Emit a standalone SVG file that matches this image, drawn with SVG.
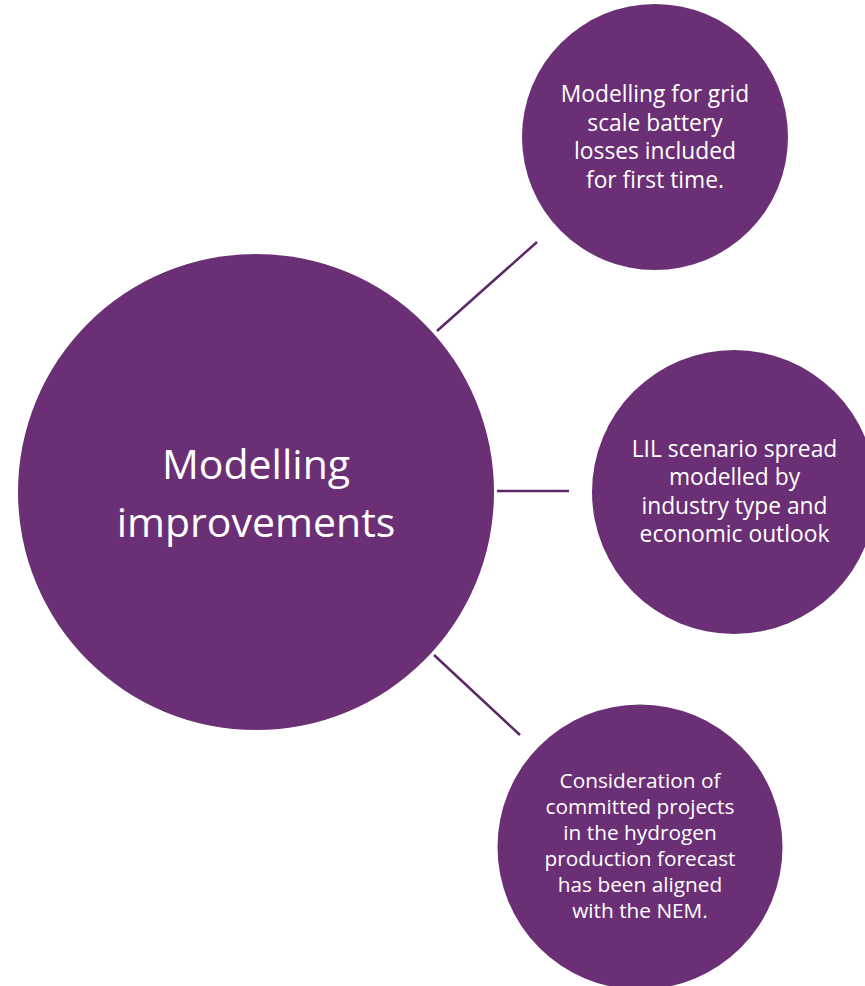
<svg xmlns="http://www.w3.org/2000/svg" width="865" height="986" viewBox="0 0 865 986">
  <style>
    .node { fill: #6b2f76; }
    .link { stroke: #5c2866; stroke-width: 2.5; fill: none; }
    .label { fill: #ffffff; font-family: "Open Sans", "Liberation Sans", sans-serif; text-anchor: middle; }
    .big { font-size: 41px; }
    .mid { font-size: 22.8px; }
    .small { font-size: 20.8px; }
  </style>
  <rect width="865" height="986" fill="#ffffff"/>

  <g id="connectors">
    <line class="link" x1="437" y1="331" x2="537" y2="242"/>
    <line class="link" x1="497" y1="491" x2="569" y2="491"/>
    <line class="link" x1="434" y1="655" x2="520" y2="735"/>
  </g>

  <g id="hub">
    <circle class="node" cx="256" cy="492" r="238"/>
    <text class="label big" x="256" y="479">Modelling</text>
    <text class="label big" x="256" y="537">improvements</text>
  </g>

  <g id="battery-losses">
    <circle class="node" cx="655" cy="137" r="133"/>
    <text class="label mid" x="655" y="102">Modelling for grid</text>
    <text class="label mid" x="655" y="130.7">scale battery</text>
    <text class="label mid" x="655" y="159.3">losses included</text>
    <text class="label mid" x="655" y="188">for first time.</text>
  </g>

  <g id="lil-scenario">
    <circle class="node" cx="734" cy="492" r="142"/>
    <text class="label mid" x="734.5" y="457">LIL scenario spread</text>
    <text class="label mid" x="734.5" y="485.3">modelled by</text>
    <text class="label mid" x="734.5" y="513.6">industry type and</text>
    <text class="label mid" x="734.5" y="542">economic outlook</text>
  </g>

  <g id="hydrogen">
    <circle class="node" cx="640" cy="847" r="142.5"/>
    <text class="label small" x="640" y="788">Consideration of</text>
    <text class="label small" x="640" y="814">committed projects</text>
    <text class="label small" x="640" y="840">in the hydrogen</text>
    <text class="label small" x="640" y="866">production forecast</text>
    <text class="label small" x="640" y="892">has been aligned</text>
    <text class="label small" x="640" y="918">with the NEM.</text>
  </g>
</svg>
